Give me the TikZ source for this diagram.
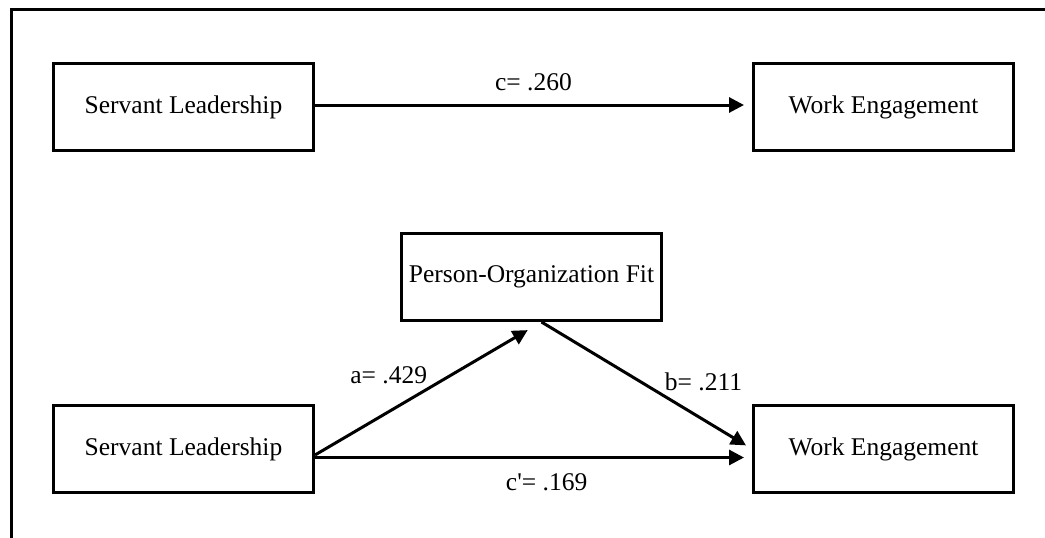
\documentclass[tikz,border=0pt]{standalone}
\usepackage{fontspec}
\setmainfont{Liberation Serif}
\usepackage{tikz}
\usetikzlibrary{positioning,arrows.meta}
\tikzstyle{construct}=[rectangle, draw=black, line width=3pt, minimum width=260pt,
        minimum height=87pt, text centered, font=\fontsize{25.5}{30}\selectfont]
\tikzstyle{myarrow}=[-{Triangle[length=15pt,width=15pt]}, line width=3pt]
\tikzstyle{coef}=[inner sep=2pt, font=\fontsize{25.5}{30}\selectfont]

\begin{document}
\begin{tikzpicture}[x=1pt, y=-1pt]
	\useasboundingbox (0,0) rectangle (1045,538);
	% open frame
	\draw[line width=3pt] (1045,9) -- (11,9) -- (11,538);

	% total effect
	\node (SLtop) [construct] at (183.5,107) {Servant Leadership};
	\node (WEtop) [construct, right=437pt of SLtop] {Work Engagement};

	% mediation model
	\node (SLbot) [construct, below=252pt of SLtop] {Servant Leadership};
	\node (WEbot) [construct, right=437pt of SLbot] {Work Engagement};
	\node (POFit) [construct] at (531.5,277) {Person-Organization Fit};

\draw[myarrow, shorten >=8pt] ([yshift=2pt]SLtop.east) -- ([yshift=2pt]WEtop.west)
	node[coef, above=11pt, midway] {c= .260};
\draw[myarrow, shorten >=16pt] ([yshift=-6pt]SLbot.east) -- ([xshift=10pt]POFit.south)
	node[coef, above left, pos=0.55, xshift=-9pt, yshift=-6pt] {a= .429};
\draw[myarrow, shorten >=7pt] ([xshift=10pt]POFit.south) -- (WEbot.west)
	node[coef, above right, pos=0.57] {b= .211};
\draw[myarrow, shorten >=8pt] ([yshift=-8.5pt]SLbot.east) -- ([yshift=-8.5pt]WEbot.west)
	node[coef, below=13pt, pos=0.53] {c\textquotesingle= .169};

\end{tikzpicture}
\end{document}
